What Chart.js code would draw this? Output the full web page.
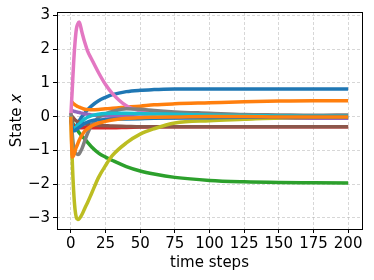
<!DOCTYPE html>
<html>
<head>
<meta charset="utf-8">
<script src="https://cdn.jsdelivr.net/npm/chart.js@4"></script>
<style>
  html, body { margin: 0; padding: 0; background: #fff; }
  #wrap { width: 374px; height: 280px; }
</style>
</head>
<body>
<div id="wrap"><canvas id="myChart" width="374" height="280"></canvas></div>
<script>
const steps = [0, 1, 2, 3, 4, 5, 6, 8, 10, 12, 15, 20, 25, 30, 40, 50, 60, 75, 100, 125, 150, 175, 200];

const blue1  = [-0.05, -0.25, -0.35, -0.33, -0.28, -0.2, -0.13, 0.0, 0.1, 0.2, 0.32, 0.47, 0.57, 0.65, 0.74, 0.78, 0.8, 0.82, 0.82, 0.82, 0.82, 0.82, 0.82];
const orange1 = [0.45, 0.42, 0.38, 0.35, 0.32, 0.3, 0.28, 0.25, 0.22, 0.21, 0.2, 0.21, 0.23, 0.25, 0.28, 0.31, 0.35, 0.38, 0.41, 0.44, 0.46, 0.47, 0.47];
const green  = [-0.05, -0.15, -0.25, -0.3, -0.35, -0.42, -0.48, -0.58, -0.66, -0.76, -0.9, -1.08, -1.2, -1.3, -1.48, -1.61, -1.7, -1.8, -1.89, -1.93, -1.95, -1.96, -1.97];
const red    = [-0.05, -0.2, -0.28, -0.32, -0.33, -0.33, -0.33, -0.33, -0.33, -0.33, -0.33, -0.33, -0.33, -0.33, -0.32, -0.31, -0.3, -0.3, -0.3, -0.3, -0.3, -0.3, -0.3];
const purple = [0.2, 0.18, 0.16, 0.15, 0.14, 0.13, 0.12, 0.1, 0.08, 0.07, 0.05, 0.03, 0.02, 0.01, 0.0, -0.01, -0.02, -0.03, -0.03, -0.04, -0.04, -0.05, -0.05];
const brown  = [0.05, 0.0, -0.05, -0.1, -0.13, -0.15, -0.17, -0.2, -0.22, -0.23, -0.25, -0.26, -0.27, -0.28, -0.29, -0.3, -0.3, -0.3, -0.3, -0.3, -0.3, -0.3, -0.3];
const pink   = [0.05, 0.8, 1.6, 2.2, 2.6, 2.75, 2.8, 2.5, 2.2, 1.95, 1.7, 1.3, 0.95, 0.68, 0.32, 0.17, 0.11, 0.07, 0.04, 0.03, 0.02, 0.01, 0.01];
const gray   = [0.1, -0.5, -0.9, -1.05, -1.1, -1.12, -1.1, -0.95, -0.72, -0.5, -0.25, -0.02, 0.08, 0.15, 0.23, 0.22, 0.18, 0.14, 0.1, 0.06, 0.05, 0.04, 0.05];
const olive  = [0.0, -1.3, -2.2, -2.75, -3.0, -3.05, -3.03, -2.9, -2.72, -2.55, -2.27, -1.8, -1.45, -1.15, -0.78, -0.52, -0.36, -0.19, -0.12, -0.08, -0.04, -0.02, -0.01];
const cyan   = [0.0, -0.3, -0.35, -0.33, -0.3, -0.26, -0.22, -0.14, -0.07, -0.02, 0.03, 0.07, 0.09, 0.1, 0.1, 0.09, 0.08, 0.07, 0.05, 0.03, 0.02, 0.01, 0.01];
const blue2  = [-0.1, -0.35, -0.42, -0.42, -0.38, -0.35, -0.32, -0.26, -0.2, -0.16, -0.12, -0.1, -0.09, -0.08, -0.07, -0.06, -0.05, -0.04, -0.03, -0.02, -0.02, -0.01, -0.01];
const orange2 = [0.0, -1.2, -1.15, -1.02, -0.9, -0.8, -0.7, -0.55, -0.43, -0.36, -0.28, -0.19, -0.14, -0.1, -0.05, -0.03, -0.02, -0.01, 0.0, 0.0, -0.01, -0.01, -0.01];

const xTicks = [0, 25, 50, 75, 100, 125, 150, 175, 200];
const yTicks = [-3, -2, -1, 0, 1, 2, 3];

const allSeries = [blue1, orange1, green, red, purple, brown, pink, gray, olive, cyan, blue2, orange2];
const colors = ["#1f77b4", "#ff7f0e", "#2ca02c", "#d62728", "#9467bd", "#8c564b",
                "#e377c2", "#7f7f7f", "#bcbd22", "#17becf", "#1f77b4", "#ff7f0e"];

const FONT = "DejaVu Sans";

// y title has an italic x, so draw it by hand
const yTitlePlugin = {
  id: "yTitle",
  afterDraw(chart) {
    const ctx = chart.ctx;
    const area = chart.chartArea;
    ctx.save();
    ctx.translate(17, (area.top + area.bottom) / 2);
    ctx.rotate(-Math.PI / 2);
    ctx.fillStyle = "#000";
    ctx.textBaseline = "middle";
    const a = "State ";
    const b = "x";
    ctx.font = "15px '" + FONT + "'";
    const wa = ctx.measureText(a).width;
    ctx.font = "italic 15px '" + FONT + "'";
    const wb = ctx.measureText(b).width;
    let x0 = -(wa + wb) / 2;
    ctx.font = "15px '" + FONT + "'";
    ctx.textAlign = "left";
    ctx.fillText(a, x0, 0);
    ctx.font = "italic 15px '" + FONT + "'";
    ctx.fillText(b, x0 + wa, 0);
    ctx.restore();
  },
};

// box around the axes, drawn over the lines like matplotlib spines
const framePlugin = {
  id: "frame",
  afterDatasetsDraw(chart) {
    const ctx = chart.ctx;
    const a = chart.chartArea;
    ctx.save();
    ctx.strokeStyle = "#000";
    ctx.lineWidth = 1;
    ctx.strokeRect(Math.round(a.left) + 0.5, Math.round(a.top) + 0.5,
      Math.round(a.right - a.left), Math.round(a.bottom - a.top));
    ctx.restore();
  },
};

function mainEvent() {
  const ctx = document.getElementById("myChart");

  // order = -i so later series are drawn on top, like matplotlib
  const datasets = allSeries.map((vals, i) => ({
    data: steps.map((t, j) => ({ x: t, y: vals[j] })),
    borderColor: colors[i],
    borderWidth: 3.5,
    pointRadius: 0,
    cubicInterpolationMode: "monotone",
    fill: false,
    order: -i,
  }));

  new Chart(ctx, {
    type: "line",
    data: { datasets: datasets },
    options: {
      responsive: false,
      animation: false,
      layout: { padding: { top: 11, right: 12, left: 0, bottom: 0 } },
      plugins: { legend: { display: false }, tooltip: { enabled: false } },
      scales: {
        x: {
          type: "linear",
          min: -10,
          max: 210,
          afterBuildTicks: (scale) => { scale.ticks = xTicks.map((v) => ({ value: v })); },
          afterFit: (scale) => { scale.height = 51; },
          ticks: { font: { family: FONT, size: 15 }, color: "#000", padding: 2, maxRotation: 0, autoSkip: false },
          grid: { color: "rgba(176,176,176,0.5)", tickLength: 4, tickColor: "#000", tickBorderDash: [] },
          border: { display: false, dash: [3, 2] },
          title: { display: true, text: "time steps", font: { family: FONT, size: 15 }, color: "#000", padding: { top: 0, bottom: 8 } },
        },
        y: {
          type: "linear",
          min: -3.33,
          max: 3.1,
          afterBuildTicks: (scale) => { scale.ticks = yTicks.map((v) => ({ value: v })); },
          afterFit: (scale) => { scale.width = 57; },
          ticks: {
            font: { family: FONT, size: 15 },
            color: "#000",
            padding: 3,
            callback: (v) => (v < 0 ? "\u2212" + Math.abs(v) : "" + v),
          },
          grid: { color: "rgba(176,176,176,0.5)", tickLength: 4, tickColor: "#000", tickBorderDash: [] },
          border: { display: false, dash: [3, 2] },
        },
      },
    },
    plugins: [yTitlePlugin, framePlugin],
  });
}

document.addEventListener("DOMContentLoaded", () => mainEvent());
</script>
</body>
</html>
